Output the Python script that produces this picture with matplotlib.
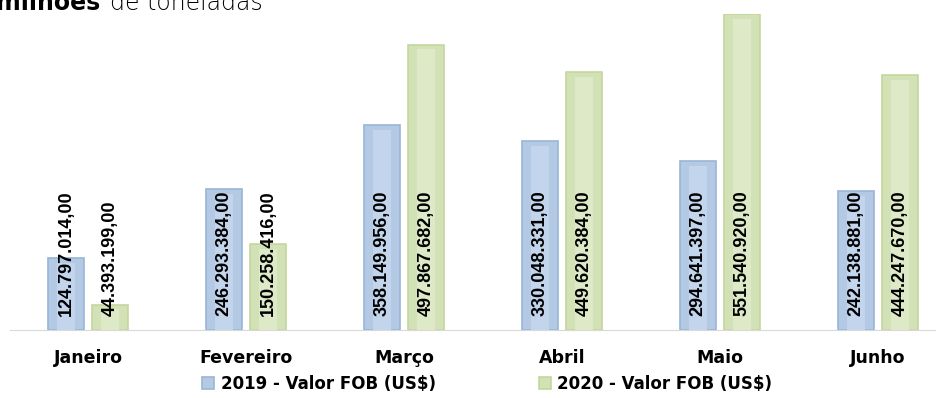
import numpy as np
import matplotlib.pyplot as plt

meses = ["Janeiro", "Fevereiro", "Março", "Abril", "Maio", "Junho"]
fob_2019 = [124797014.00, 246293384.00, 358149956.00, 330048331.00, 294641397.00, 242138881.00]
fob_2020 = [44393199.00, 150258416.00, 497867682.00, 449620384.00, 551540920.00, 444247670.00]
serie_2019 = "2019 - Valor FOB (US$)"
serie_2020 = "2020 - Valor FOB (US$)"


def fmt_br(v):
    s = f"{v:,.2f}"
    return s.replace(",", "X").replace(".", ",").replace("X", ".")


fig = plt.figure(figsize=(9.39, 3.98), dpi=100)
W, H = 939, 398
ax = fig.add_axes([10 / W, (H - 330) / H, 925 / W, 316 / H])

x = np.arange(len(meses))
off = 22 / 158
bw = 36 / 158
ymax = max(fob_2020)

b1 = ax.bar(x - off, fob_2019, bw, color="#b3c9e4", edgecolor="#9ab5d8", linewidth=1.2, label=serie_2019)
b2 = ax.bar(x + off, fob_2020, bw, color="#d3e2b6", edgecolor="#c4d79b", linewidth=1.2, label=serie_2020)
# brilho no centro das barras
ax.bar(x - off, np.array(fob_2019) - ymax * 0.015, bw * 0.5, color="#c2d5ec", linewidth=0)
ax.bar(x + off, np.array(fob_2020) - ymax * 0.015, bw * 0.5, color="#deeac7", linewidth=0)

for rects, vals in ((b1, fob_2019), (b2, fob_2020)):
    for r, v in zip(rects, vals):
        ax.text(r.get_x() + r.get_width() / 2, ymax * 0.044, fmt_br(v),
                rotation=90, ha="center", va="bottom", fontsize=13,
                fontweight="bold", family="Liberation Sans", color="black")

ax.set_xlim(-0.494, 5.361)
ax.set_ylim(0, ymax)
ax.set_yticks([])
ax.set_xticks(x)
ax.set_xticklabels(meses, fontsize=12.5, fontweight="bold")
ax.tick_params(axis="x", length=0, pad=14)
for s in ("top", "right", "left"):
    ax.spines[s].set_visible(False)
ax.spines["bottom"].set_color("#d9d9d9")

leg = fig.legend(handles=[b1, b2], loc="lower center", bbox_to_anchor=(0.519, -0.025), ncol=2,
                 frameon=False, prop={"weight": "bold", "size": 12},
                 handlelength=0.7, handleheight=0.7, columnspacing=6.2, handletextpad=0.4)

fig.text(-0.004, 1 - 10 / H, "milhões", fontsize=17, fontweight="bold", va="baseline")
fig.text(110 / W, 1 - 10 / H, "de toneladas", fontsize=17, fontweight="light", va="baseline")

fig.savefig("out.png", dpi=100)
